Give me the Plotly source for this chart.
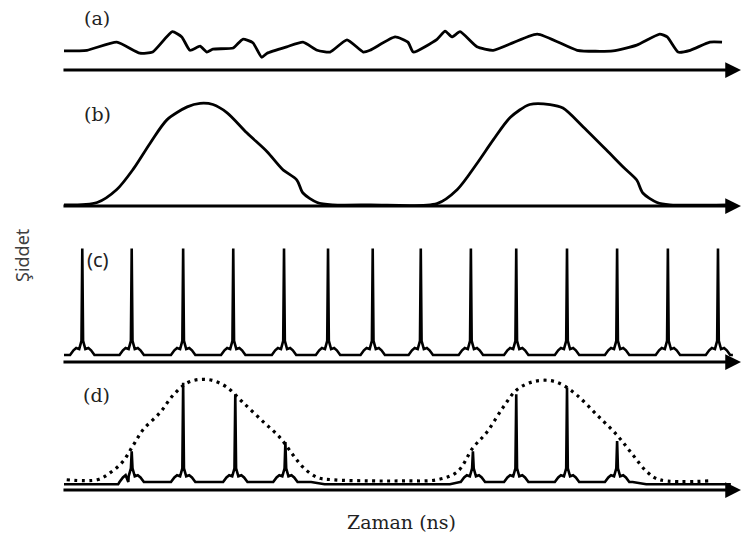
import plotly.graph_objects as go

# ---------------- data (time in arbitrary ns units 0..100, intensity 0..1) -------------
# (a) noisy continuous-wave signal
a_t = [0, 3.4, 7.8, 11.2, 13.1, 16.0, 17.4, 18.6, 20.1, 21.1, 22.0, 25.0, 26.4, 27.9, 29.2,
       30.0, 32.9, 35.3, 37.4, 39.3, 41.8, 44.2, 45.2, 48.9, 50.8, 51.6, 55.1, 56.3, 57.3,
       58.5, 61.0, 63.4, 69.9, 75.8, 81.1, 84.6, 88.0, 89.1, 90.7, 92.5, 95.4, 97.2]
a_y = [0.33, 0.34, 0.48, 0.29, 0.31, 0.66, 0.57, 0.34, 0.41, 0.31, 0.36, 0.38, 0.53, 0.47, 0.22,
       0.29, 0.40, 0.48, 0.34, 0.31, 0.52, 0.31, 0.34, 0.57, 0.48, 0.31, 0.53, 0.67, 0.57,
       0.66, 0.40, 0.34, 0.62, 0.34, 0.33, 0.43, 0.62, 0.57, 0.31, 0.34, 0.48, 0.48]

# (b) modulation pulses
b_t = [0, 4.9, 7.8, 10.2, 12.7, 15.2, 18.2, 20.1, 22.0, 24.1, 27.0, 30.0, 32.3, 34.4, 35.3,
       37.4, 39.7, 45.2, 55.1, 58.1, 61.0, 63.4, 65.9, 68.8, 71.8, 73.7, 76.7, 80.2, 82.6,
       84.6, 85.5, 87.6, 89.5, 98.0]
b_y = [0.01, 0.03, 0.14, 0.31, 0.53, 0.73, 0.84, 0.87, 0.86, 0.79, 0.62, 0.46, 0.31, 0.22, 0.11,
       0.03, 0.01, 0.01, 0.02, 0.14, 0.36, 0.56, 0.75, 0.86, 0.86, 0.83, 0.67, 0.47, 0.33,
       0.22, 0.11, 0.03, 0.01, 0.01]

# (c) mode-locked pulse train
c_peak_t = [2.7, 10.0, 17.6, 25.0, 32.5, 39.0, 45.6, 52.7, 60.1, 66.8, 74.3, 81.7, 89.2, 96.6]
c_peak_h = [0.97, 0.97, 0.97, 0.97, 0.97, 0.97, 0.97, 0.97, 0.97, 0.97, 0.97, 0.97, 0.97, 0.97]
c_base = 0.06
c_end_t = [0.0, 98.8]

# (d) gated pulse train and envelope
d_peak_t = [10.0, 17.6, 25.3, 32.7, 60.4, 66.8, 74.3, 81.7]
d_peak_h = [0.34, 0.94, 0.84, 0.42, 0.34, 0.84, 0.90, 0.43]
d_peak_base = 0.07
d_base_t = [0.0, 8.0, 9.5, 36.5, 38.5, 57.0, 58.5, 84.0, 86.0, 98.5]
d_base_y = [0.05, 0.05, 0.07, 0.07, 0.05, 0.05, 0.07, 0.07, 0.05, 0.05]

env_t = [0.4, 4.9, 6.8, 8.7, 10.2, 11.7, 14.2, 16.1, 18.2, 20.1, 22.0, 24.1, 26.4, 29.4, 31.9,
         33.8, 35.3, 37.4, 39.7, 45.2, 50.1, 55.1, 58.1, 60.4, 62.5, 64.8, 66.9, 69.3, 71.8,
         73.7, 75.8, 78.7, 81.7, 84.0, 86.1, 88.0, 95.4]
env_y = [0.09, 0.09, 0.15, 0.25, 0.39, 0.53, 0.68, 0.83, 0.94, 0.97, 0.96, 0.90, 0.77, 0.60, 0.46,
         0.31, 0.20, 0.11, 0.09, 0.08, 0.08, 0.09, 0.16, 0.37, 0.51, 0.72, 0.88, 0.95, 0.96,
         0.92, 0.83, 0.66, 0.48, 0.31, 0.16, 0.09, 0.08]

# spike shape (offset in time units, rise above base)
spike_dt = [-1.8, -1.3, -0.9, -0.45, -0.12, 0.0, 0.12, 0.45, 0.9, 1.3, 1.8]
spike_rise = [0.0, 0.04, 0.06, 0.05, 0.12, None, 0.12, 0.05, 0.06, 0.04, 0.0]

panel_labels = ["(a)", "(b)", "(c)", "(d)"]
y_title = "Şiddet"
x_title = "Zaman (ns)"


def spike_train(peaks, heights, base):
    xs, ys = [], []
    for p, h in zip(peaks, heights):
        for dt, r in zip(spike_dt, spike_rise):
            xs.append(p + dt)
            ys.append(h if r is None else base + r)
    return xs, ys


cx, cy = spike_train(c_peak_t, c_peak_h, c_base)
cx = [c_end_t[0]] + cx + [c_end_t[1]]
cy = [c_base] + cy + [c_base]

dx, dy = spike_train(d_peak_t, d_peak_h, d_peak_base)
pts = sorted(list(zip(dx, dy)) + list(zip(d_base_t, d_base_y)), key=lambda p: p[0])
dx = [p[0] for p in pts]
dy = [p[1] for p in pts]

# ---------------- figure ----------------
W, H = 743, 540
SANS = "Noto Sans"
SERIF = "DejaVu Serif"

fig = go.Figure()
fig.add_trace(go.Scatter(x=a_t, y=a_y, mode="lines", line_shape="spline",
                         line=dict(color="black", width=2.8, smoothing=0.5),
                         xaxis="x", yaxis="y"))
fig.add_trace(go.Scatter(x=b_t, y=b_y, mode="lines", line_shape="spline",
                         line=dict(color="black", width=2.8, smoothing=0.8),
                         xaxis="x2", yaxis="y2"))
fig.add_trace(go.Scatter(x=cx, y=cy, mode="lines", line=dict(color="black", width=2.6),
                         xaxis="x3", yaxis="y3"))
fig.add_trace(go.Scatter(x=env_t, y=env_y, mode="lines", line_shape="spline",
                         line=dict(color="black", width=3.2, dash="3px,4.5px"),
                         xaxis="x4", yaxis="y4"))
fig.add_trace(go.Scatter(x=dx, y=dy, mode="lines", line=dict(color="black", width=2.6),
                         xaxis="x4", yaxis="y4"))

# panel pixel geometry: (baseline, top) in px
panels = [(70, 12), (206, 88), (362, 245), (490, 376)]
x_dom = [64 / W, 741 / W]
ax_common = dict(showgrid=False, zeroline=False, showticklabels=False, showline=False,
                 ticks="", fixedrange=True)
layout = dict(width=W, height=H, margin=dict(l=0, r=0, t=0, b=0), showlegend=False,
              paper_bgcolor="white", plot_bgcolor="white")
for i, (base_px, top_px) in enumerate(panels):
    sfx = "" if i == 0 else str(i + 1)
    layout["xaxis" + sfx] = dict(domain=x_dom, range=[0, 100], anchor="y" + sfx, **ax_common)
    layout["yaxis" + sfx] = dict(domain=[1 - base_px / H, 1 - top_px / H], range=[0, 1],
                                 anchor="x" + sfx, **ax_common)
fig.update_layout(**layout)

annotations = []
for i in range(4):
    sfx = "" if i == 0 else str(i + 1)
    xr, yr = "x" + sfx, "y" + sfx
    annotations.append(dict(x=0, y=1.05, ax=0, ay=-0.02, xref=xr, yref=yr, axref=xr, ayref=yr,
                            text="", showarrow=True, arrowhead=2, arrowsize=1.05,
                            arrowwidth=3, arrowcolor="black", standoff=0))
    annotations.append(dict(x=100, y=0, ax=-0.3, ay=0, xref=xr, yref=yr, axref=xr, ayref=yr,
                            text="", showarrow=True, arrowhead=2, arrowsize=1.05,
                            arrowwidth=3, arrowcolor="black", standoff=0))

label_pos = [(97, 18), (97, 114), (98, 259), (96, 395)]
label_font = [SERIF, SERIF, SANS, SERIF]
label_size = [19, 19, 20, 19]
for txt, (px, py), fnt, sz in zip(panel_labels, label_pos, label_font, label_size):
    annotations.append(dict(x=px / W, y=1 - py / H, xref="paper", yref="paper", text=txt,
                            showarrow=False, xanchor="center", yanchor="middle",
                            font=dict(family=fnt, size=sz, color="#222")))

annotations.append(dict(x=22 / W, y=1 - 255 / H, xref="paper", yref="paper", text=y_title,
                        showarrow=False, textangle=-90, xanchor="center", yanchor="middle",
                        font=dict(family=SANS, size=18, color="#404040")))
annotations.append(dict(x=401 / W, y=1 - 522 / H, xref="paper", yref="paper", text=x_title,
                        showarrow=False, xanchor="center", yanchor="middle",
                        font=dict(family=SERIF, size=19, color="#222")))
fig.update_layout(annotations=annotations)

fig.write_html("out.html")
